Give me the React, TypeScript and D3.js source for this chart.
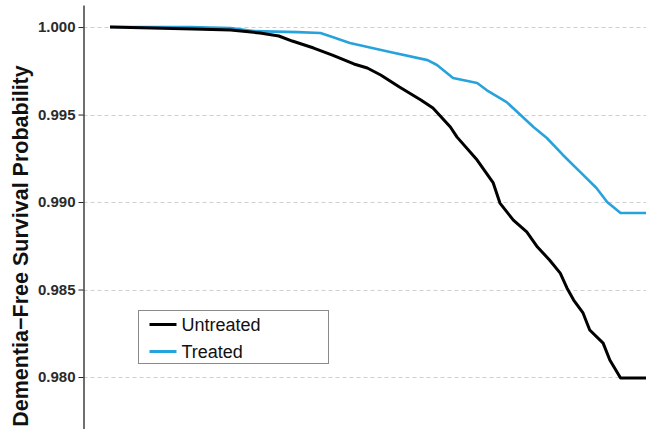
import React, { useEffect, useRef } from 'react';
import * as d3 from 'd3';

// Follow-up time (arbitrary units, the x axis is not shown in the figure)
const untreatedTime = [0, 3.1, 4.5, 5.6, 6.3, 6.8, 7.6, 8.3, 9.1, 9.6, 10.1, 10.8, 11.6, 12.05, 12.7, 12.95, 13.7, 14.3, 14.55, 15.05, 15.55, 15.95, 16.4, 16.8, 17.05, 17.3, 17.65, 17.9, 18.4, 18.65, 19.05, 20];
const untreatedSurv = [1.0, 0.99989, 0.99983, 0.99966, 0.99949, 0.9992, 0.9988, 0.9984, 0.99789, 0.99766, 0.99726, 0.99657, 0.99583, 0.99537, 0.99429, 0.99371, 0.9924, 0.99109, 0.98994, 0.98897, 0.98829, 0.98743, 0.98669, 0.98594, 0.98509, 0.9844, 0.98366, 0.98269, 0.98194, 0.98097, 0.97994, 0.97994];

const treatedTime = [0, 3.0, 4.5, 5.35, 7.0, 7.85, 8.3, 8.95, 10.45, 11.85, 12.2, 12.8, 13.7, 14.05, 14.8, 15.4, 15.8, 16.3, 16.9, 17.55, 18.15, 18.55, 19.05, 20];
const treatedSurv = [1.0, 1.0, 0.99994, 0.99977, 0.99971, 0.99966, 0.99943, 0.99909, 0.99857, 0.99811, 0.99783, 0.99709, 0.9968, 0.9964, 0.99571, 0.99486, 0.99429, 0.99366, 0.99269, 0.99171, 0.9908, 0.99, 0.98937, 0.98937];

const yTicks = [0.98, 0.985, 0.99, 0.995, 1.0];
const seriesNames = ['Untreated', 'Treated'];
const seriesColors = ['#000000', '#27a3dc'];

const App = () => {
  const ref = useRef<SVGSVGElement>(null);

  useEffect(() => {
    const width = 646;
    const svg = d3.select(ref.current);
    svg.selectAll('*').remove();

    const x = d3.scaleLinear().domain([0, 20]).range([110, 646]);
    const y = d3.scaleLinear().domain([0.97703, 1.00126]).range([429, 5]);
    const axisX = 83.5;

    // grid lines
    svg.append('g')
      .selectAll('line')
      .data(yTicks)
      .enter()
      .append('line')
      .attr('x1', axisX)
      .attr('x2', width)
      .attr('y1', d => Math.round(y(d)) + 0.5)
      .attr('y2', d => Math.round(y(d)) + 0.5)
      .attr('stroke', '#cfcfcf')
      .attr('stroke-width', 1)
      .attr('stroke-dasharray', '4,3');

    // y axis
    const yAxis = svg.append('g')
      .attr('transform', `translate(${axisX},0)`)
      .call(d3.axisLeft(y).tickValues(yTicks).tickFormat(d3.format('.3f')).tickSize(5).tickSizeOuter(0).tickPadding(3));
    yAxis.select('.domain').attr('stroke', '#222').attr('stroke-width', 1.3);
    yAxis.selectAll('.tick line').attr('stroke', '#222');
    yAxis.selectAll('.tick text')
      .attr('font-family', '"Liberation Sans", Arial, sans-serif')
      .attr('font-size', 15)
      .attr('font-weight', 'bold')
      .attr('fill', '#2b2b2b');

    // y axis title
    svg.append('text')
      .attr('transform', 'translate(27.5,246) rotate(-90)')
      .attr('text-anchor', 'middle')
      .attr('font-family', '"Liberation Sans", Arial, sans-serif')
      .attr('font-size', 21.5)
      .attr('font-weight', 'bold')
      .attr('fill', '#111')
      .text('Dementia\u2212Free Survival Probability');

    // survival curves
    const line = d3.line<[number, number]>()
      .x(d => x(d[0]))
      .y(d => y(d[1]));

    const series: [number, number][][] = [
      untreatedTime.map((t, i) => [t, untreatedSurv[i]]),
      treatedTime.map((t, i) => [t, treatedSurv[i]])
    ];

    // draw treated first so untreated sits on top where they overlap
    [1, 0].forEach(i => {
      svg.append('path')
        .datum(series[i])
        .attr('fill', 'none')
        .attr('stroke', seriesColors[i])
        .attr('stroke-width', i === 0 ? 3 : 2.6)
        .attr('stroke-linejoin', 'round')
        .attr('d', line);
    });

    // legend
    const legend = svg.append('g').attr('transform', 'translate(138.5,310.5)');
    legend.append('rect')
      .attr('width', 190)
      .attr('height', 53)
      .attr('fill', 'white')
      .attr('stroke', '#8a8a8a')
      .attr('stroke-width', 1);

    seriesNames.forEach((name, i) => {
      const ly = 14 + i * 27;
      legend.append('line')
        .attr('x1', 11)
        .attr('x2', 38)
        .attr('y1', ly)
        .attr('y2', ly)
        .attr('stroke', seriesColors[i])
        .attr('stroke-width', 3);
      legend.append('text')
        .attr('x', 43)
        .attr('y', ly + 6)
        .attr('font-family', '"Liberation Sans", Arial, sans-serif')
        .attr('font-size', 18)
        .attr('fill', '#111')
        .text(name);
    });
  }, []);

  return (
    <svg
      ref={ref}
      width={646}
      height={429}
      style={{ position: 'absolute', left: 0, top: 0, background: 'white' }}
    />
  );
};

export default App;
